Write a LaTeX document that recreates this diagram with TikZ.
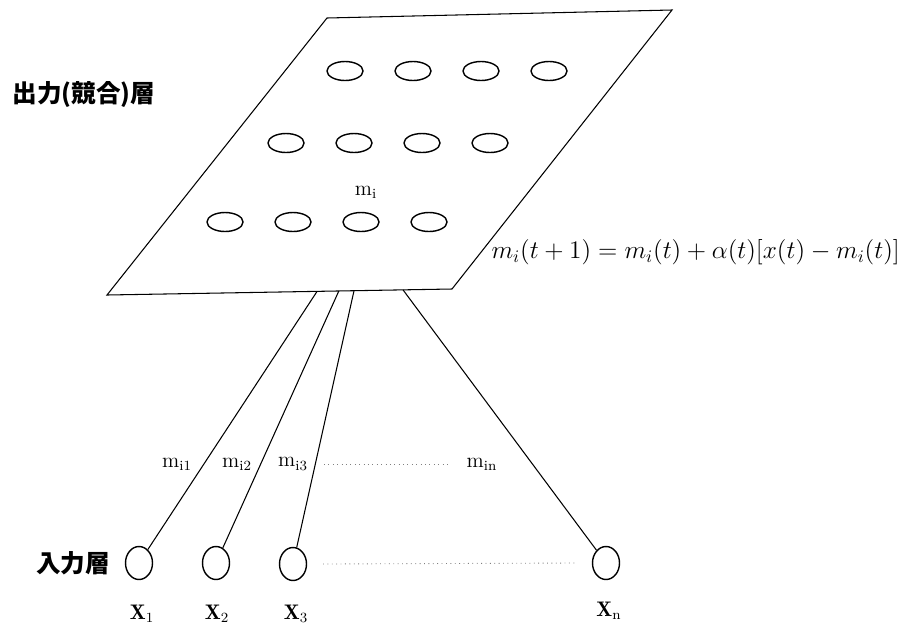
\documentclass[tikz,border=0pt]{standalone}
\usepackage{fontspec}
\newfontfamily\cjk{Noto Sans CJK JP}
\usetikzlibrary{shapes.geometric, calc}

\begin{document}
\begin{tikzpicture}[x=0.02cm, y=-0.02cm,
    unit/.style={draw, ellipse, line width=0.8pt, inner sep=0pt,
                 minimum width=0.72cm, minimum height=0.38cm},
    innode/.style={draw, ellipse, line width=0.8pt, inner sep=0pt,
                   minimum width=0.54cm, minimum height=0.66cm},
    layer/.style={font=\fontsize{14}{16}\selectfont\cjk\bfseries},
    wlabel/.style={font=\fontsize{12}{14}\selectfont, inner sep=1pt},
    link/.style={line width=0.6pt},
    dots/.style={dotted, gray, line width=0.5pt}]
  \useasboundingbox (0,0) rectangle (912,626);

  % competitive (output) layer
  \coordinate (ptl) at (327,18);
  \coordinate (ptr) at (672,10);
  \coordinate (pbr) at (452,289);
  \coordinate (pbl) at (107,295);
  \draw[link] (ptl) -- (ptr) -- (pbr) -- (pbl) -- cycle;

  \foreach \r/\xs/\y in {1/345/71, 2/286/143, 3/225/222}
    \foreach \c in {1,...,4}
      \node[unit] (o\r\c) at ({\xs+68*(\c-1)},\y) {};

  \node[wlabel] (mi) at (366,192) {$\mathrm{m}_{\mathrm{i}}$};
  \node[layer] (outl) at (84,95) {出力(競合)層};
  \node[font=\fontsize{14}{17}\selectfont, anchor=east] (rule) at (906,252)
    {$m_i(t+1) = m_i(t) + \alpha(t)[x(t) - m_i(t)]$};

  % input layer
  \node[innode] (x1) at (139,563) {};
  \node[innode] (x2) at (216,563) {};
  \node[innode] (x3) at (293,564) {};
  \node[innode] (xn) at (606,563) {};
  \node[layer, anchor=east] (inl) at (116,563) {入力層};

  \node[wlabel] (lx1) at (142,614) {$\mathbf{X}_{1}$};
  \node[wlabel] (lx2) at (217,614) {$\mathbf{X}_{2}$};
  \node[wlabel] (lx3) at (296,614) {$\mathbf{X}_{3}$};
  \node[wlabel] (lxn) at (609,611) {$\mathbf{X}_{\mathrm{n}}$};

  % weights
  \coordinate (w1) at ($(pbl)!0.609!(pbr)$);
  \coordinate (w2) at ($(pbl)!0.672!(pbr)$);
  \coordinate (w3) at ($(pbl)!0.716!(pbr)$);
  \coordinate (wn) at ($(pbl)!0.858!(pbr)$);
  \draw[link] (x1) -- (w1);
  \draw[link] (x2) -- (w2);
  \draw[link] (x3) -- (w3);
  \draw[link] (xn) -- (wn);

  \node[wlabel] (m1) at (177,464) {$\mathrm{m}_{\mathrm{i1}}$};
  \node[wlabel] (m2) at (237,464) {$\mathrm{m}_{\mathrm{i2}}$};
  \node[wlabel] (m3) at (293,464) {$\mathrm{m}_{\mathrm{i3}}$};
  \node[wlabel] (mn) at (482,464) {$\mathrm{m}_{\mathrm{in}}$};
  \draw[dots] ([xshift=8pt]m3.east) -- ([xshift=-10pt]mn.west);
  \draw[dots] ([xshift=9pt]x3.east) -- ([xshift=-9pt]xn.west);
\end{tikzpicture}
\end{document}
